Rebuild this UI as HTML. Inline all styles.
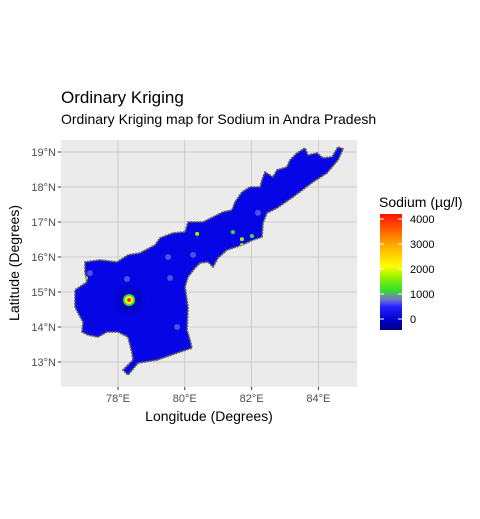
<!DOCTYPE html>
<html><head><meta charset="utf-8"><style>
html,body{margin:0;padding:0;background:#fff;}
svg text{font-family:"Liberation Sans",sans-serif;}
</style></head><body>
<svg id="chart" width="480" height="514" xmlns="http://www.w3.org/2000/svg">
<defs>
<linearGradient id="lg" x1="0" y1="1" x2="0" y2="0">
<stop offset="0" stop-color="#000080"/>
<stop offset="0.08" stop-color="#0000c8"/>
<stop offset="0.2" stop-color="#2020ff"/>
<stop offset="0.26" stop-color="#7070d0"/>
<stop offset="0.3" stop-color="#60a080"/>
<stop offset="0.34" stop-color="#30e030"/>
<stop offset="0.45" stop-color="#90f000"/>
<stop offset="0.55" stop-color="#ffff00"/>
<stop offset="0.75" stop-color="#ffa000"/>
<stop offset="1" stop-color="#ff1000"/>
</linearGradient>
<radialGradient id="halo">
<stop offset="0.3" stop-color="#000090" stop-opacity="0.5"/>
<stop offset="0.7" stop-color="#0000a0" stop-opacity="0.35"/>
<stop offset="1" stop-color="#0000e0" stop-opacity="0"/>
</radialGradient>
</defs>
<text x="61" y="103" font-size="17" fill="#000">Ordinary Kriging</text>
<text x="61" y="124" font-size="14" fill="#000">Ordinary Kriging map for Sodium in Andra Pradesh</text>
<rect x="61" y="140" width="296" height="247" fill="#ebebeb"/>
<g id="grid"></g>
<g id="map"></g>
<g id="axes"></g>
<text x="209" y="421" font-size="14" text-anchor="middle" fill="#000">Longitude (Degrees)</text>
<text transform="translate(19,263) rotate(-90)" font-size="14" text-anchor="middle" fill="#000">Latitude (Degrees)</text>
<text x="379" y="207" font-size="14" fill="#000">Sodium (µg/l)</text>
<rect x="380" y="214" width="22" height="116" fill="url(#lg)"/>
<g id="legend"></g>
</svg>
<script>
const xTicks=[78,80,82,84];
const xTickLabels=["78°E","80°E","82°E","84°E"];
const yTicks=[13,14,15,16,17,18,19];
const yTickLabels=["13°N","14°N","15°N","16°N","17°N","18°N","19°N"];
const legendValues=[0,1000,2000,3000,4000];
const hotLon=[78.33,80.37,81.71,81.71,81.44,82.01,77.04,78.27,82.19,80.25,79.56,79.77,79.5,77.16];
const hotLat=[14.77,16.66,16.51,16.34,16.71,16.6,15.4,15.37,17.26,16.06,15.4,14.0,16.0,15.54];
const hotVal=[3500,1500,1500,1400,1100,1200,1300,800,800,800,800,800,800,800];
const outlinePx=[[343,149],[338,147],[332,157],[323,158],[317,153],[308,155],[305,148],[297,153],[290,160],[287,167],[277,170],[273,177],[265,172],[262,180],[260,187],[250,187],[242,192],[235,202],[232,210],[223,212],[213,217],[203,222],[188,222],[185,232],[173,233],[160,238],[155,245],[140,253],[128,255],[117,262],[100,260],[85,262],[85,272],[87,282],[75,290],[75,307],[78,313],[83,322],[82,332],[88,335],[98,337],[107,332],[118,332],[128,337],[132,353],[133,360],[123,370],[128,375],[138,363],[157,360],[177,353],[192,348],[190,340],[187,330],[188,307],[185,287],[188,277],[195,268],[200,263],[208,262],[213,267],[218,258],[227,250],[242,245],[253,240],[262,237],[263,223],[267,213],[277,208],[293,197],[313,182],[327,173],[338,160]];
const NS="http://www.w3.org/2000/svg";
const X=lon=>118+(lon-78)*33.4;
const Y=lat=>152-(lat-19)*35;
const LY=v=>319-v*0.025;
function mk(tag,attrs,parent){const e=document.createElementNS(NS,tag);for(const k in attrs)e.setAttribute(k,attrs[k]);parent.appendChild(e);return e;}
function col(v){
 if(v<900)return "#8080e0";
 if(v<1300)return "#40e040";
 if(v<2000)return "#a0f000";
 if(v<2800)return "#ffff00";
 if(v<3400)return "#ffa000";
 return "#ff3000";
}
const grid=document.getElementById('grid'),axes=document.getElementById('axes'),map=document.getElementById('map'),leg=document.getElementById('legend');
xTicks.forEach((t,i)=>{
 const l=mk('line',{x1:X(t),x2:X(t),y1:140,y2:387,stroke:'#c4c4c4','stroke-width':0.8},grid);
 
 
 const tk=mk('line',{x1:X(t),x2:X(t),y1:387,y2:390,stroke:'#333'},axes);
 
 
 const tx=mk('text',{x:X(t),y:402,'font-size':11,'text-anchor':'middle',fill:'#4d4d4d'},axes);
 tx.textContent=xTickLabels[i];
 
 
});
yTicks.forEach((t,i)=>{
 const l=mk('line',{x1:61,x2:357,y1:Y(t),y2:Y(t),stroke:'#c4c4c4','stroke-width':0.8},grid);
 
 
 const tk=mk('line',{x1:58,x2:61,y1:Y(t),y2:Y(t),stroke:'#333'},axes);
 
 
 const tx=mk('text',{x:56,y:Y(t)+4,'font-size':11,'text-anchor':'end',fill:'#4d4d4d'},axes);
 tx.textContent=yTickLabels[i];
 
 
});
const cp=mk('clipPath',{id:'apclip'},document.querySelector('defs'));
mk('polygon',{points:outlinePx.map(p=>p.join(',')).join(' ')},cp);
const base=mk('polygon',{points:outlinePx.map(p=>p.join(',')).join(' '),fill:'#0505e6',stroke:'#5a5a5a','stroke-width':1.8,'stroke-linejoin':'round','stroke-dasharray':'2 1'},map);


const hg=mk('g',{'clip-path':'url(#apclip)'},map);
hotVal.forEach((v,i)=>{
 const cx=X(hotLon[i]),cy=Y(hotLat[i]);
 if(v>3000){
  const r=mk('circle',{cx:cx,cy:cy,r:18,fill:'url(#halo)'},hg);
  
  
  const a=mk('circle',{cx:cx,cy:cy,r:6,fill:'#40e040'},hg);
  
  
  const b=mk('circle',{cx:cx,cy:cy,r:4,fill:'#ffff00'},hg);
  
  
 }
 const c=mk('circle',{cx:cx,cy:cy,r:v>3000?2:(v>1000?2:3),fill:col(v),opacity:v>1000?1:0.6},hg);
 
 
});
legendValues.forEach(v=>{
 const y=LY(v);
 const a=mk('line',{x1:380,x2:384,y1:y,y2:y,stroke:'#fff'},leg);
 
 
 const b=mk('line',{x1:398,x2:402,y1:y,y2:y,stroke:'#fff'},leg);
 
 
 const t=mk('text',{x:410,y:y+4,'font-size':11,fill:'#000'},leg);
 t.textContent=v;
 
 
});
</script>
</body></html>
